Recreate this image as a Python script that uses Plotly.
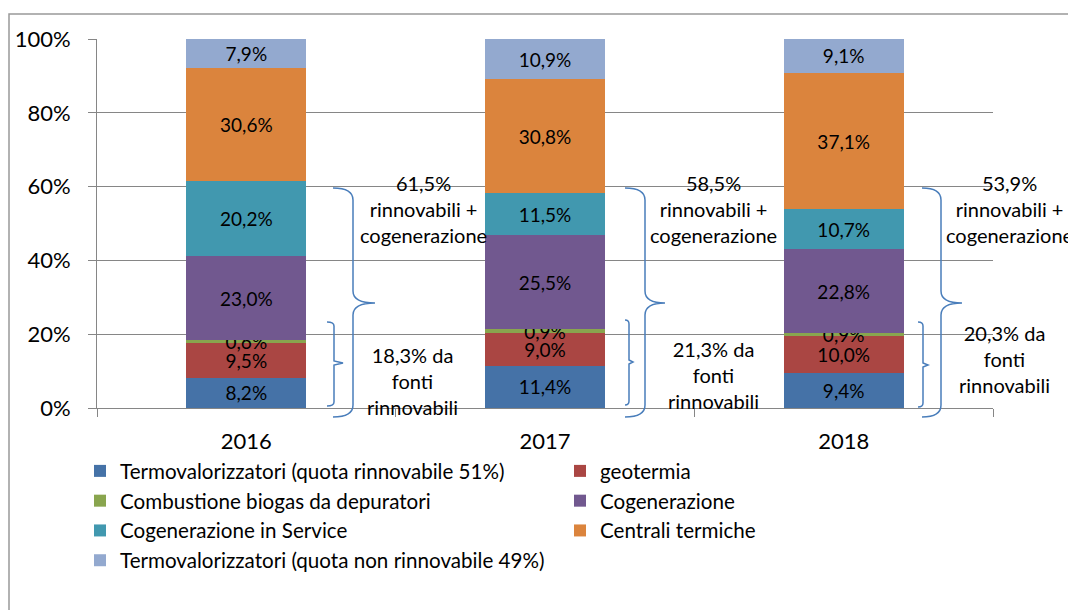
import plotly.graph_objects as go

years = ["2016", "2017", "2018"]
series_names = [
    "Termovalorizzatori (quota rinnovabile 51%)",
    "geotermia",
    "Combustione biogas da depuratori",
    "Cogenerazione",
    "Cogenerazione in Service",
    "Centrali termiche",
    "Termovalorizzatori (quota non rinnovabile 49%)",
]
termo_rinn = [8.2, 11.4, 9.4]
geotermia = [9.5, 9.0, 10.0]
biogas = [0.6, 0.9, 0.9]
cogenerazione = [23.0, 25.5, 22.8]
cog_service = [20.2, 11.5, 10.7]
centrali = [30.6, 30.8, 37.1]
termo_non_rinn = [7.9, 10.9, 9.1]
series_values = [termo_rinn, geotermia, biogas, cogenerazione, cog_service, centrali, termo_non_rinn]
colors = ["#4572A7", "#AA4643", "#89A54E", "#71588F", "#4198AF", "#DB843D", "#93A9CF"]

rc_totals = ["61,5%", "58,5%", "53,9%"]
ren_totals = ["18,3%", "21,3%", "20,3%"]
y_ticks = [0, 20, 40, 60, 80, 100]
y_ticktext = ["0%", "20%", "40%", "60%", "80%", "100%"]

FONT = "Lato"
W, H = 1076, 610
OFF = 8  # page body margin
# plot area in screen pixels
L, R, T, B = 97, 993, 39, 408


def px(x):
    return (x - L) / (R - L)


def py(y):
    return (B - y) / (B - T)


fig = go.Figure()
for name, vals, col in zip(series_names, series_values, colors):
    fig.add_trace(go.Bar(
        x=years, y=vals, name=name, marker=dict(color=col, line=dict(width=0)),
        text=[f"{v:.1f}%".replace(".", ",") for v in vals],
        textposition="inside", insidetextanchor="middle", textangle=0,
        textfont=dict(color="black", size=19, family=FONT),
        width=0.402,
    ))

shapes = []
# outer frame
shapes.append(dict(type="rect", xref="paper", yref="paper",
                   x0=px(9), x1=px(1073), y0=py(14), y1=py(640),
                   line=dict(color="#999999", width=1.5), fillcolor="rgba(0,0,0,0)", layer="below"))


def brace(xl, xv, xt, yt, ym, yb):
    r = 12
    pts = (f"M {px(xl)},{py(yt)} Q {px(xv)},{py(yt)} {px(xv)},{py(yt + r)} "
           f"L {px(xv)},{py(ym - r)} Q {px(xv)},{py(ym)} {px(xt)},{py(ym)} "
           f"Q {px(xv)},{py(ym)} {px(xv)},{py(ym + r)} "
           f"L {px(xv)},{py(yb - r)} Q {px(xv)},{py(yb)} {px(xl)},{py(yb)}")
    return dict(type="path", xref="paper", yref="paper", path=pts,
                line=dict(color="#4A7EBB", width=1.5))


def small_brace(xl, xv, xt, yt, ym, yb):
    r = 4
    pts = (f"M {px(xl)},{py(yt)} Q {px(xv)},{py(yt)} {px(xv)},{py(yt + r)} "
           f"L {px(xv)},{py(ym - 2)} L {px(xt)},{py(ym)} L {px(xv)},{py(ym + 2)} "
           f"L {px(xv)},{py(yb - r)} Q {px(xv)},{py(yb)} {px(xl)},{py(yb)}")
    return dict(type="path", xref="paper", yref="paper", path=pts,
                line=dict(color="#4A7EBB", width=1.5))


shapes += [
    brace(333, 353, 375, 188, 303, 417),
    brace(625, 645, 665, 188, 303, 417),
    brace(922, 941, 962, 188, 303, 417),
    small_brace(327, 334, 343, 322, 363, 406),
    small_brace(625, 629, 633, 320, 362, 405),
    small_brace(918, 923, 928, 322, 365, 407),
]

annotations = []
top_pos = [(423, 209), (713, 209), (1010, 209)]
bot_pos = [(412, 381), (713, 375), (1004, 359)]
for t, (x, y) in zip(rc_totals, top_pos):
    annotations.append(dict(xref="paper", yref="paper", x=px(x), y=py(y), showarrow=False,
                            text=f"{t}<br>rinnovabili +<br>cogenerazione", align="center",
                            xanchor="center", yanchor="middle",
                            font=dict(family=FONT, size=20, color="black")))
for t, (x, y) in zip(ren_totals, bot_pos):
    annotations.append(dict(xref="paper", yref="paper", x=px(x), y=py(y), showarrow=False,
                            text=f"{t} da<br>fonti<br>rinnovabili", align="center",
                            xanchor="center", yanchor="middle",
                            font=dict(family=FONT, size=20, color="black")))

fig.update_layout(
    width=W, height=H, barmode="stack", separators=",.",
    paper_bgcolor="white", plot_bgcolor="white",
    margin=dict(l=L - OFF, r=W - (R - OFF), t=T - OFF, b=H - (B - OFF), autoexpand=False),
    font=dict(family=FONT, color="black"),
    uniformtext=dict(minsize=19, mode="show"),
    shapes=shapes, annotations=annotations,
    legend=dict(orientation="h", x=px(80), y=py(451), xanchor="left", yanchor="top",
                entrywidth=435, traceorder="normal",
                font=dict(family=FONT, size=20.6, color="black"), itemclick=False),
    xaxis=dict(type="category", showgrid=False, showline=True, linecolor="#868686",
               ticks="outside", tickson="boundaries", ticklen=8, tickcolor="#868686",
               ticklabelstandoff=14,
               tickfont=dict(family=FONT, size=22, color="black"), range=[-0.5, 2.5]),
    yaxis=dict(range=[0, 100], tickmode="array", tickvals=y_ticks, ticktext=y_ticktext,
               showgrid=True, gridcolor="#868686", gridwidth=1, showline=True, linecolor="#868686",
               ticks="outside", ticklen=8, tickcolor="#868686", ticklabelstandoff=13,
               tickfont=dict(family=FONT, size=22, color="black"), zeroline=False),
)

fig.write_html("out.html")
